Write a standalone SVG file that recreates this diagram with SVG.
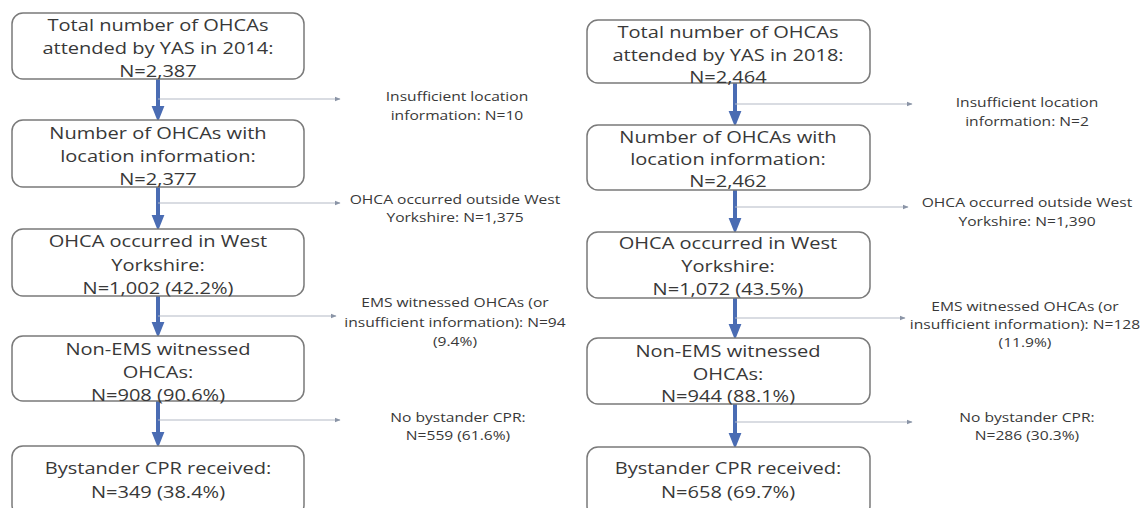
<svg xmlns="http://www.w3.org/2000/svg" width="1147" height="508" viewBox="0 0 1147 508">
<defs>
<style>
.box{fill:#fff;stroke:#7a7a7a;stroke-width:1.5}
.bt{font-family:"Open Sans",sans-serif;font-size:17px;fill:#383838;text-anchor:middle;transform-box:fill-box;transform-origin:center;transform:scaleX(1.18)}
.lt{font-family:"Open Sans",sans-serif;font-size:13px;fill:#383838;text-anchor:middle;transform-box:fill-box;transform-origin:center;transform:scaleX(1.2)}
.va{stroke:#4a6cb3;stroke-width:4;fill:none}
.ha{stroke:#b3bac6;stroke-width:1.2;fill:none}
</style>
<marker id="ab" viewBox="0 0 10 10" refX="5" refY="5" markerWidth="4" markerHeight="4" orient="auto" markerUnits="strokeWidth"><path d="M0,1 L10,5 L0,9 z" fill="#4a6cb3"/></marker>
<marker id="ag" viewBox="0 0 10 10" refX="9" refY="5" markerWidth="5" markerHeight="5" orient="auto" markerUnits="strokeWidth"><path d="M0,1 L10,5 L0,9 z" fill="#8a94a6"/></marker>
</defs>
<rect width="1147" height="508" fill="#fff"/>
<g id="connectors">
<path class="va" d="M158,79 V114" marker-end="url(#ab)"/>
<path class="va" d="M158,187 V223" marker-end="url(#ab)"/>
<path class="va" d="M158,296 V330" marker-end="url(#ab)"/>
<path class="va" d="M158,401 V440" marker-end="url(#ab)"/>
<path class="ha" d="M158,99 H340" marker-end="url(#ag)"/>
<path class="ha" d="M158,203 H340" marker-end="url(#ag)"/>
<path class="ha" d="M158,316 H336" marker-end="url(#ag)"/>
<path class="ha" d="M158,420 H340" marker-end="url(#ag)"/>
<path class="va" d="M735,83 V119" marker-end="url(#ab)"/>
<path class="va" d="M735,190 V226" marker-end="url(#ab)"/>
<path class="va" d="M735,298 V332" marker-end="url(#ab)"/>
<path class="va" d="M735,404 V441" marker-end="url(#ab)"/>
<path class="ha" d="M735,104 H912" marker-end="url(#ag)"/>
<path class="ha" d="M735,207 H908" marker-end="url(#ag)"/>
<path class="ha" d="M735,318 H905" marker-end="url(#ag)"/>
<path class="ha" d="M735,422 H912" marker-end="url(#ag)"/>
</g>
<g id="L1"><rect class="box" x="12" y="13" width="292" height="66" rx="11"/>
<text class="bt" x="158" y="31">Total number of OHCAs</text><text class="bt" x="158" y="54">attended by YAS in 2014:</text><text class="bt" x="158" y="77">N=2,387</text></g>
<g id="L2"><rect class="box" x="12" y="120" width="292" height="67" rx="11"/>
<text class="bt" x="158" y="139">Number of OHCAs with</text><text class="bt" x="158" y="162">location information:</text><text class="bt" x="158" y="185">N=2,377</text></g>
<g id="L3"><rect class="box" x="12" y="229" width="292" height="67" rx="11"/>
<text class="bt" x="158" y="247">OHCA occurred in West</text><text class="bt" x="158" y="271">Yorkshire:</text><text class="bt" x="158" y="294">N=1,002 (42.2%)</text></g>
<g id="L4"><rect class="box" x="12" y="336" width="292" height="65" rx="11"/>
<text class="bt" x="158" y="355">Non-EMS witnessed</text><text class="bt" x="158" y="378">OHCAs:</text><text class="bt" x="158" y="401">N=908 (90.6%)</text></g>
<g id="L5"><rect class="box" x="12" y="446" width="292" height="70" rx="11"/>
<text class="bt" x="158" y="474">Bystander CPR received:</text><text class="bt" x="158" y="498">N=349 (38.4%)</text></g>
<g id="LL1"><text class="lt" x="457" y="101">Insufficient location</text><text class="lt" x="457" y="120">information: N=10</text></g>
<g id="LL2"><text class="lt" x="455" y="204">OHCA occurred outside West</text><text class="lt" x="455" y="222">Yorkshire: N=1,375</text></g>
<g id="LL3"><text class="lt" x="455" y="307">EMS witnessed OHCAs (or</text><text class="lt" x="455" y="327">insufficient information): N=94</text><text class="lt" x="455" y="346">(9.4%)</text></g>
<g id="LL4"><text class="lt" x="458" y="422">No bystander CPR:</text><text class="lt" x="458" y="440">N=559 (61.6%)</text></g>
<g id="R1"><rect class="box" x="587" y="20" width="283" height="63" rx="11"/>
<text class="bt" x="728" y="38">Total number of OHCAs</text><text class="bt" x="728" y="61">attended by YAS in 2018:</text><text class="bt" x="728" y="83">N=2,464</text></g>
<g id="R2"><rect class="box" x="587" y="125" width="283" height="65" rx="11"/>
<text class="bt" x="728" y="143">Number of OHCAs with</text><text class="bt" x="728" y="165">location information:</text><text class="bt" x="728" y="187">N=2,462</text></g>
<g id="R3"><rect class="box" x="587" y="232" width="283" height="66" rx="11"/>
<text class="bt" x="728" y="249">OHCA occurred in West</text><text class="bt" x="728" y="272">Yorkshire:</text><text class="bt" x="728" y="295">N=1,072 (43.5%)</text></g>
<g id="R4"><rect class="box" x="587" y="338" width="283" height="66" rx="11"/>
<text class="bt" x="728" y="357">Non-EMS witnessed</text><text class="bt" x="728" y="380">OHCAs:</text><text class="bt" x="728" y="402">N=944 (88.1%)</text></g>
<g id="R5"><rect class="box" x="587" y="447" width="283" height="70" rx="11"/>
<text class="bt" x="728" y="474">Bystander CPR received:</text><text class="bt" x="728" y="498">N=658 (69.7%)</text></g>
<g id="RL1"><text class="lt" x="1027" y="107">Insufficient location</text><text class="lt" x="1027" y="126">information: N=2</text></g>
<g id="RL2"><text class="lt" x="1027" y="207">OHCA occurred outside West</text><text class="lt" x="1027" y="226">Yorkshire: N=1,390</text></g>
<g id="RL3"><text class="lt" x="1025" y="311">EMS witnessed OHCAs (or</text><text class="lt" x="1025" y="329">insufficient information): N=128</text><text class="lt" x="1025" y="347">(11.9%)</text></g>
<g id="RL4"><text class="lt" x="1027" y="422">No bystander CPR:</text><text class="lt" x="1027" y="440">N=286 (30.3%)</text></g>
</svg>
